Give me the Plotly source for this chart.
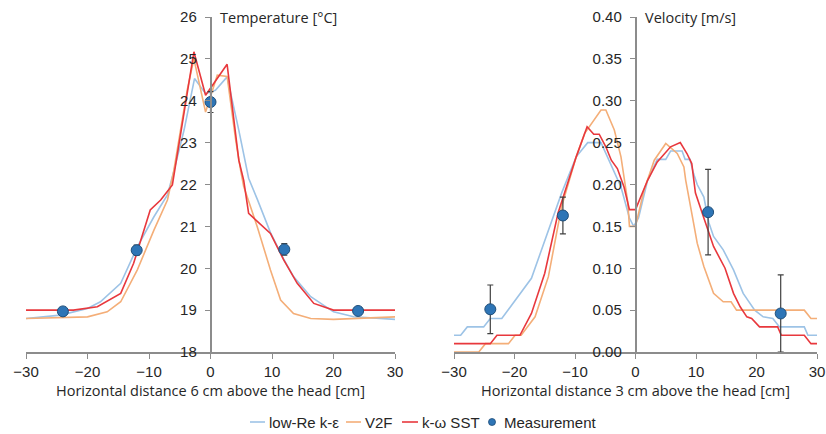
import plotly.graph_objects as go

# ---------------- data: temperature (left) ----------------
t_lowre_x = [-30, -24.4, -20, -17.9, -14.6, -11.9, -9.2, -7, -6, -4.3, -2.6, -0.8, 0.8, 2.7, 4.6, 6.2, 7.6, 9.75, 11.9, 13.5, 16.3, 20, 23.3, 30]
t_lowre_y = [18.80, 18.88, 19.04, 19.2, 19.64, 20.51, 21.23, 21.75, 22.3, 23.3, 24.53, 24.17, 24.25, 24.57, 23.3, 22.15, 21.65, 20.85, 20.22, 19.8, 19.32, 18.96, 18.84, 18.78]

t_v2f_x = [-30, -20, -16.8, -14.6, -11.9, -9.2, -7, -6, -3.8, -2.7, -0.8, 1.1, 2.7, 4.1, 4.9, 5.4, 7.6, 9.75, 11.4, 13.5, 16.3, 20, 30]
t_v2f_y = [18.80, 18.84, 18.96, 19.2, 19.96, 20.91, 21.63, 22.3, 24.25, 25.0, 23.73, 24.61, 24.58, 23.06, 22.34, 21.95, 20.99, 19.96, 19.24, 18.92, 18.8, 18.78, 18.84]

t_sst_x = [-30, -22.3, -18.4, -14.6, -12.5, -9.8, -8.1, -6.2, -2.7, -0.8, 2.7, 4.6, 5.4, 6.2, 9.75, 11.9, 14.1, 16.8, 20, 30]
t_sst_y = [19.0, 19.0, 19.08, 19.4, 20.12, 21.39, 21.63, 21.99, 25.17, 24.13, 24.87, 22.58, 22.1, 21.31, 20.83, 20.2, 19.64, 19.16, 19.0, 19.0]

t_meas_x = [-24, -12, 0, 12, 24]
t_meas_y = [18.97, 20.43, 23.97, 20.45, 18.98]
t_meas_err = [0.03, 0.12, 0.25, 0.14, 0.03]

# ---------------- data: velocity (right) ----------------
v_lowre_x = [-30, -28.9, -27.8, -25.1, -24, -22.1, -17.2, -12.2, -9.8, -7.9, -5.7, -4.6, -2.4, -1, -0.3, 0.5, 2, 3.6, 5, 5.8, 7.7, 8.2, 9, 9.6, 10.2, 11.3, 12.1, 12.9, 14.5, 16.2, 17.8, 19.7, 21.1, 22.7, 23.8, 27.9, 28.5, 30]
v_lowre_y = [0.02, 0.02, 0.03, 0.03, 0.04, 0.04, 0.088, 0.19, 0.233, 0.25, 0.25, 0.233, 0.197, 0.16, 0.15, 0.16, 0.205, 0.23, 0.23, 0.24, 0.24, 0.23, 0.23, 0.213, 0.2, 0.185, 0.155, 0.138, 0.122, 0.098, 0.07, 0.05, 0.042, 0.04, 0.03, 0.03, 0.02, 0.02]

v_v2f_x = [-30, -25.9, -24.8, -21, -19.9, -18.9, -16.6, -14.4, -12.2, -9.8, -8.4, -6.8, -5.7, -4.9, -3.5, -2.4, -1.3, -1, 0, 1.4, 3.1, 5, 6.9, 8, 8.3, 9.6, 10.2, 11.3, 12.9, 14.5, 15.8, 16.7, 27.9, 29, 30]
v_v2f_y = [0.0, 0.0, 0.01, 0.01, 0.02, 0.02, 0.042, 0.09, 0.174, 0.233, 0.261, 0.277, 0.289, 0.289, 0.265, 0.233, 0.18, 0.15, 0.15, 0.193, 0.229, 0.249, 0.237, 0.221, 0.205, 0.154, 0.13, 0.102, 0.07, 0.06, 0.06, 0.05, 0.05, 0.04, 0.04]

v_sst_x = [-30, -24, -22.9, -19.1, -17.2, -15, -12.8, -11.1, -9.8, -8, -6.9, -6, -4.9, -4, -3, -1.9, -1, 0, 2, 3.6, 5.8, 7.4, 8.5, 9.3, 9.9, 11.3, 12.9, 14.8, 16.2, 17.3, 18.4, 19.2, 20.5, 23.5, 24.1, 27.9, 29, 30]
v_sst_y = [0.01, 0.01, 0.02, 0.02, 0.046, 0.094, 0.166, 0.205, 0.233, 0.269, 0.26, 0.26, 0.245, 0.229, 0.219, 0.197, 0.17, 0.17, 0.205, 0.227, 0.245, 0.25, 0.237, 0.225, 0.19, 0.16, 0.126, 0.1, 0.07, 0.054, 0.042, 0.04, 0.03, 0.03, 0.02, 0.02, 0.01, 0.01]

v_meas_x = [-24, -12, 12, 24]
v_meas_y = [0.051, 0.163, 0.167, 0.046]
v_meas_err = [0.029, 0.022, 0.051, 0.046]

x_ticks = [-30, -20, -10, 0, 10, 20, 30]
legend_names = ["low-Re k-ε", "V2F", "k-ω SST", "Measurement"]

# ---------------- styles ----------------
C_LOWRE = "#9DC3E6"
C_V2F = "#F4AE78"
C_SST = "#E8383D"
C_MEAS = "#2E75B6"
AXIS = "#8C8C8C"
TXT = "#262626"
FONT = "Liberation Sans, Arial, sans-serif"
TFONT = "Open Sans, sans-serif"

fig = go.Figure()

def add_lines(xa, ya, xs, ys, color, name):
    fig.add_trace(go.Scatter(x=xs, y=ys, mode="lines", name=name, showlegend=False,
                             line=dict(color=color, width=1.6),
                             xaxis=xa, yaxis=ya, hoverinfo="skip"))

add_lines("x", "y", t_lowre_x, t_lowre_y, C_LOWRE, legend_names[0])
add_lines("x", "y", t_v2f_x, t_v2f_y, C_V2F, legend_names[1])
add_lines("x", "y", t_sst_x, t_sst_y, C_SST, legend_names[2])
add_lines("x2", "y2", v_lowre_x, v_lowre_y, C_LOWRE, legend_names[0])
add_lines("x2", "y2", v_v2f_x, v_v2f_y, C_V2F, legend_names[1])
add_lines("x2", "y2", v_sst_x, v_sst_y, C_SST, legend_names[2])

def add_meas(xa, ya, xs, ys, err):
    fig.add_trace(go.Scatter(x=xs, y=ys, mode="markers", name=legend_names[3], showlegend=False,
                             marker=dict(color=C_MEAS, size=11, line=dict(color="#1F4E79", width=1)),
                             error_y=dict(type="data", array=err, color="#404040", thickness=1.2, width=3),
                             xaxis=xa, yaxis=ya))

add_meas("x", "y", t_meas_x, t_meas_y, t_meas_err)
add_meas("x2", "y2", v_meas_x, v_meas_y, v_meas_err)

W, H = 826, 434
xd1 = [26 / W, 395 / W]
xd2 = [454 / W, 817 / W]
yd = [1 - 352 / H, 1 - 17 / H]

xcommon = dict(range=[-30, 30], tickvals=x_ticks, showgrid=False, zeroline=False,
               showline=True, linecolor=AXIS, linewidth=1.5, ticks="outside",
               ticklen=5, tickcolor=AXIS, tickwidth=1.2, automargin=False,
               tickfont=dict(family=FONT, size=15, color=TXT))
ycommon = dict(showgrid=False, zeroline=False, showline=True, linecolor=AXIS,
               linewidth=1.5, ticks="outside", ticklen=5, tickcolor=AXIS,
               tickwidth=1.2, tickfont=dict(family=FONT, size=15, color=TXT),
               ticklabelstandoff=5,
               domain=yd, anchor="free", automargin=False)

# ---------------- hand-placed legend (short line keys as in the reference) ----------------
ly = 1 - 422 / H
leg_colors = [C_LOWRE, C_V2F, C_SST]
leg_line_x = [(250, 265), (346, 361), (402, 418)]
leg_text_x = [267, 363, 420, 502]
shapes = []
for (a, b), c in zip(leg_line_x, leg_colors):
    shapes.append(dict(type="line", xref="paper", yref="paper", x0=a / W, x1=b / W, y0=ly, y1=ly,
                       line=dict(color=c, width=1.6)))
shapes.append(dict(type="circle", xref="paper", yref="paper", xsizemode="pixel", ysizemode="pixel",
                   xanchor=492 / W, yanchor=ly, x0=-3.5, x1=3.5, y0=-3.5, y1=3.5,
                   fillcolor=C_MEAS, line=dict(color="#1F4E79", width=0.8)))

annotations = [
    dict(text="Temperature [°C]", xref="paper", yref="paper", x=(xd1[0] + xd1[1]) / 2 + 7 / W,
         y=1 - 17 / H, xanchor="left", yanchor="middle", showarrow=False,
         font=dict(family=TFONT, size=14.5, color=TXT)),
    dict(text="Velocity [m/s]", xref="paper", yref="paper", x=(xd2[0] + xd2[1]) / 2 + 7 / W,
         y=1 - 17 / H, xanchor="left", yanchor="middle", showarrow=False,
         font=dict(family=TFONT, size=14.5, color=TXT)),
    dict(text="Horizontal distance 6 cm above the head [cm]", xref="paper", yref="paper",
         x=(xd1[0] + xd1[1]) / 2, y=1 - 390 / H, xanchor="center", yanchor="middle",
         showarrow=False, font=dict(family=TFONT, size=14.5, color=TXT)),
    dict(text="Horizontal distance 3 cm above the head [cm]", xref="paper", yref="paper",
         x=(xd2[0] + xd2[1]) / 2, y=1 - 390 / H, xanchor="center", yanchor="middle",
         showarrow=False, font=dict(family=TFONT, size=14.5, color=TXT)),
]
for name, tx in zip(legend_names, leg_text_x):
    annotations.append(dict(text=name, xref="paper", yref="paper", x=tx / W, y=ly,
                            xanchor="left", yanchor="middle", showarrow=False,
                            font=dict(family=FONT, size=15, color=TXT)))

fig.update_layout(
    width=W, height=H,
    margin=dict(l=0, r=0, t=0, b=0),
    paper_bgcolor="white", plot_bgcolor="white",
    xaxis=dict(domain=xd1, anchor="y", **xcommon),
    yaxis=dict(range=[18, 26], dtick=1, position=(xd1[0] + xd1[1]) / 2, **ycommon),
    xaxis2=dict(domain=xd2, anchor="y2", **xcommon),
    yaxis2=dict(range=[0, 0.4], dtick=0.05, tickformat=".2f",
                position=(xd2[0] + xd2[1]) / 2, **ycommon),
    showlegend=False,
    shapes=shapes,
    annotations=annotations,
)

fig.write_html("out.html", config={"displayModeBar": False},
               post_script="document.body.style.margin='0';document.body.style.overflow='hidden';")
